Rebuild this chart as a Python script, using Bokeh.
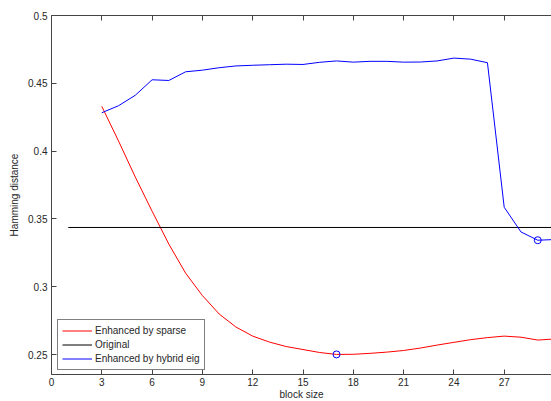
from bokeh.plotting import figure
from bokeh.models import LinearAxis, Legend, LegendItem, Range1d, FixedTicker, Label
from bokeh.embed import file_html
from bokeh.resources import INLINE

# ---- data ----
block_size = list(range(3, 31))
sparse = [0.4330, 0.4074, 0.3808, 0.3557, 0.3314, 0.3100, 0.2935, 0.2799, 0.2703, 0.2636,
          0.2592, 0.2559, 0.2537, 0.2515, 0.2501, 0.2502, 0.2509, 0.2518, 0.2530, 0.2548,
          0.2570, 0.2590, 0.2610, 0.2625, 0.2636, 0.2628, 0.2607, 0.2615]
hybrid = [0.4283, 0.4335, 0.4412, 0.4526, 0.4521, 0.4585, 0.4597, 0.4615, 0.4628, 0.4633,
          0.4637, 0.4641, 0.4639, 0.4655, 0.4665, 0.4656, 0.4662, 0.4662, 0.4656, 0.4657,
          0.4665, 0.4686, 0.4678, 0.4652, 0.3586, 0.3404, 0.3343, 0.3348]
orig_x = [1, 31]
orig_y = [0.3437, 0.3437]
min_x = [17, 29]
min_y = [0.2501, 0.3343]
x_ticks = [0, 3, 6, 9, 12, 15, 18, 21, 24, 27, 30]
y_ticks = [0.25, 0.30, 0.35, 0.40, 0.45, 0.50]
y_tick_labels = ["0.25", "0.3", "0.35", "0.4", "0.45", "0.5"]

FONT = "Liberation Sans"
FS = "10px"
AXC = "#444444"
TXC = "#262626"

p = figure(frame_width=500, frame_height=359, output_backend="svg", toolbar_location=None,
           x_range=Range1d(0, 29.82), y_range=Range1d(0.2353, 0.5),
           min_border_left=51, min_border_right=0, min_border_top=15, min_border_bottom=26)
p.outline_line_color = None
p.grid.visible = False
p.background_fill_color = "white"
p.border_fill_color = "white"

for ax in (p.xaxis[0], p.yaxis[0]):
    ax.axis_line_color = AXC
    ax.major_tick_line_color = AXC
    ax.major_tick_in = 5
    ax.major_tick_out = 0
    ax.minor_tick_line_color = None
    ax.major_label_text_font = FONT
    ax.major_label_text_font_size = FS
    ax.major_label_text_color = TXC
    ax.axis_label_text_font = FONT
    ax.axis_label_text_font_size = FS
    ax.axis_label_text_font_style = "normal"
    ax.axis_label_text_color = TXC

p.xaxis.ticker = FixedTicker(ticks=x_ticks)
p.yaxis.ticker = FixedTicker(ticks=y_ticks)
p.yaxis.major_label_overrides = dict(zip(y_ticks, y_tick_labels))
p.xaxis.axis_label = "block size"
p.yaxis.axis_label = "Hamming distance"
p.xaxis.major_label_standoff = 3
p.xaxis.axis_label_standoff = 0
p.yaxis.major_label_standoff = 4
p.yaxis.axis_label_standoff = 5

top = LinearAxis(ticker=FixedTicker(ticks=x_ticks))
top.axis_line_color = AXC
top.major_tick_line_color = AXC
top.major_tick_in = 5
top.major_tick_out = 0
top.minor_tick_line_color = None
top.major_label_overrides = {t: "" for t in x_ticks}
top.major_label_standoff = 0
p.add_layout(top, "above")

r_sparse = p.line(block_size, sparse, line_color="#ff0000", line_width=1)
r_orig = p.line(orig_x, orig_y, line_color="black", line_width=1)
r_hybrid = p.line(block_size, hybrid, line_color="#0000ff", line_width=1)
p.scatter(min_x, min_y, marker="circle", size=7, fill_color=None, line_color="#0000ff", line_width=1)

# the "30" tick label, cut by the right edge as in the reference
p.add_layout(Label(x=x_ticks[-1], y=0.2353, y_offset=-3, text=str(x_ticks[-1]), text_align="center",
                   text_baseline="top", text_font=FONT, text_font_size=FS, text_color=TXC))

legend = Legend(items=[LegendItem(label="Enhanced by sparse", renderers=[r_sparse]),
                       LegendItem(label="Original", renderers=[r_orig]),
                       LegendItem(label="Enhanced by hybrid eig", renderers=[r_hybrid])],
                location=(6, 4), orientation="vertical")
legend.border_line_color = "black"
legend.border_line_width = 1
legend.background_fill_alpha = 1
legend.label_text_font = FONT
legend.label_text_font_size = FS
legend.label_text_color = TXC
legend.glyph_width = 30
legend.glyph_height = 13
legend.label_height = 13
legend.label_standoff = 3
legend.spacing = 1
legend.padding = 4
legend.margin = 0
p.add_layout(legend, "center")

open("out.html", "w").write(file_html(p, INLINE))
